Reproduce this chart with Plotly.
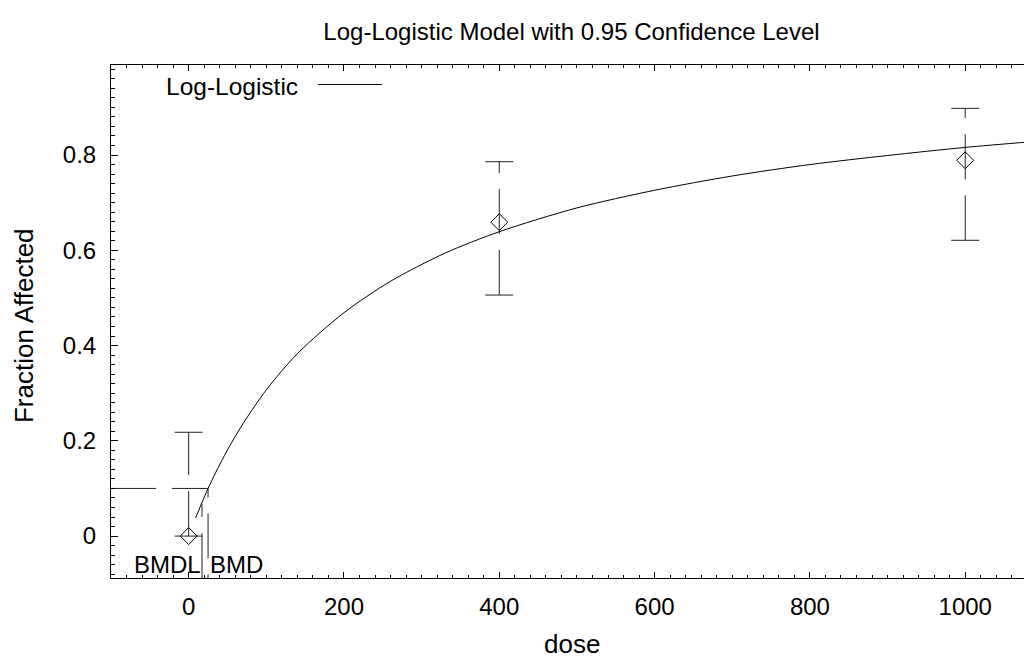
import plotly.graph_objects as go

# ---- data ----
doses = [0, 400, 1000]
frac_affected = [0.0, 0.659, 0.789]
ci_lower = [0.0, 0.506, 0.621]
ci_upper = [0.218, 0.786, 0.898]

curve_dose = [9, 12, 17, 25, 35, 50, 70, 100, 140, 200, 260, 330, 400, 500, 600, 700, 800, 900, 1000, 1086]
curve_frac = [0.038, 0.050, 0.070, 0.100, 0.134, 0.181, 0.236, 0.307, 0.383, 0.469, 0.535, 0.594,
              0.639, 0.689, 0.726, 0.756, 0.780, 0.799, 0.816, 0.828]

bmr = 0.1
bmd = 25.0
bmdl = 17.2
bmdl_top = 0.068

x_range = [-100, 1086]
y_range = [-0.088, 0.989]

FONT = "Liberation Sans, Arial, sans-serif"
DASH = "45px,16px"
LINE_COL = "#222222"

fig = go.Figure()

# error bar stems (dashed), drawn bottom to top
for d, lo, hi in zip(doses, ci_lower, ci_upper):
    fig.add_trace(go.Scatter(x=[d, d], y=[lo, hi], mode="lines",
                             line=dict(color=LINE_COL, width=1, dash=DASH),
                             showlegend=False, hoverinfo="skip"))
# caps
fig.add_trace(go.Scatter(x=doses + doses, y=ci_lower + ci_upper, mode="markers",
                         marker=dict(symbol="line-ew", size=20, line=dict(color=LINE_COL, width=1)),
                         showlegend=False, hoverinfo="skip"))

# BMR / BMD polyline
fig.add_trace(go.Scatter(x=[x_range[0], bmd, bmd], y=[bmr, bmr, y_range[0]], mode="lines",
                         line=dict(color=LINE_COL, width=1, dash=DASH),
                         showlegend=False, hoverinfo="skip"))
# BMDL line
fig.add_trace(go.Scatter(x=[bmdl, bmdl], y=[y_range[0], bmdl_top], mode="lines",
                         line=dict(color=LINE_COL, width=1, dash=DASH),
                         showlegend=False, hoverinfo="skip"))

# model curve
fig.add_trace(go.Scatter(x=curve_dose, y=curve_frac, mode="lines",
                         line=dict(color="black", width=1, shape="spline", smoothing=0.8),
                         name="Log-Logistic", showlegend=False, hoverinfo="skip"))

# observed means
fig.add_trace(go.Scatter(x=doses, y=frac_affected, mode="markers",
                         marker=dict(symbol="diamond-open", size=13, color="black",
                                     line=dict(color="black", width=1)),
                         showlegend=False, hoverinfo="skip"))

# BMDL / BMD labels
fig.add_annotation(x=bmdl, y=y_range[0], xref="x", yref="y", text="BMDL", showarrow=False,
                   xanchor="right", yanchor="bottom", xshift=1, yshift=-2,
                   font=dict(family=FONT, size=24, color="black"))
fig.add_annotation(x=bmd, y=y_range[0], xref="x", yref="y", text="BMD", showarrow=False,
                   xanchor="left", yanchor="bottom", xshift=0, yshift=-2,
                   font=dict(family=FONT, size=24, color="black"))

# manual legend (text then line sample)
fig.add_annotation(x=0.2055, y=0.958, xref="paper", yref="paper", text="Log-Logistic",
                   showarrow=False, xanchor="right", yanchor="middle",
                   font=dict(family=FONT, size=24.5, color="black"))
fig.add_shape(type="line", xref="paper", yref="paper", x0=0.2248, x1=0.2942, y0=0.962, y1=0.962,
              line=dict(color="black", width=1))

# axis titles as annotations for precise placement
fig.add_annotation(x=0.5, y=-0.129, xref="paper", yref="paper", text="dose", showarrow=False,
                   xanchor="center", yanchor="middle",
                   font=dict(family=FONT, size=26, color="black"))
fig.add_annotation(x=-0.0945, y=0.493, xref="paper", yref="paper", text="Fraction Affected",
                   showarrow=False, textangle=-90, xanchor="center", yanchor="middle",
                   font=dict(family=FONT, size=26, color="black"))

axis_common = dict(showline=True, linecolor="black", linewidth=1, showgrid=False, zeroline=False,
                   ticks="inside", tickcolor="black", tickwidth=1,
                   tickfont=dict(family=FONT, size=24, color="black"))

fig.update_xaxes(range=x_range, dtick=200, tick0=0, ticklen=6, mirror="ticks",
                 minor=dict(dtick=20, ticks="inside", ticklen=3, tickcolor="black"),
                 ticklabelstandoff=7,
                 **axis_common)
fig.update_yaxes(range=y_range, dtick=0.2, tick0=0, ticklen=7,
                 minor=dict(dtick=0.02, ticks="inside", ticklen=4, tickcolor="black"),
                 ticklabelstandoff=9, tickformat="~g",
                 **axis_common)

# page has an 8px body margin, so the figure is 8px smaller and margins shifted by 8px
fig.update_layout(
    width=1024, height=654,
    margin=dict(l=103, r=0, t=57, b=84, autoexpand=False),
    paper_bgcolor="white", plot_bgcolor="white",
    title=dict(text="Log-Logistic Model with 0.95 Confidence Level", x=0.5, xref="paper",
               y=1 - 24 / 654, yref="container", yanchor="middle", xanchor="center",
               font=dict(family=FONT, size=24, color="black")),
    showlegend=False,
)

fig.write_html("out.html")
